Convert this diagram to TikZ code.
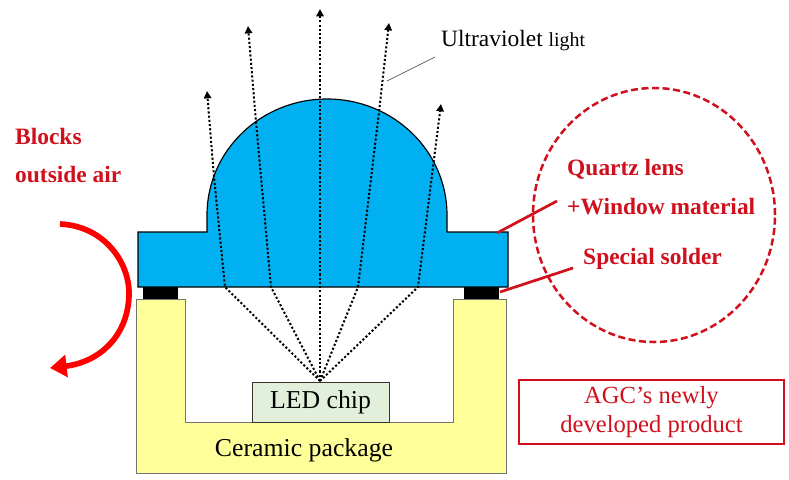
\documentclass[tikz,border=0pt]{standalone}
\usepackage{fontspec}
\setmainfont{Liberation Serif}
\usepackage{tikz}
\usetikzlibrary{positioning}
\usetikzlibrary{shapes.geometric,calc,arrows.meta}
\definecolor{lensblue}{HTML}{00B0F0}
\definecolor{pkgyellow}{HTML}{FFFF99}
\definecolor{chipgreen}{HTML}{E2EFDA}
\definecolor{agcred}{HTML}{D0101C}
\tikzset{
	ray/.style = {line width=0.75mm*0.8, dash pattern=on 1.8pt off 1.8pt, -{Triangle[length=2.2mm,width=2.2mm]}},
	leader/.style = {agcred, line width=0.9mm*0.9},
	bluelabel/.style = {inner sep=0pt, anchor=base west, font=\fontsize{20}{24}\selectfont\bfseries, text=agcred},
	blacklabel/.style = {inner sep=0pt, anchor=base, font=\fontsize{22}{26}\selectfont},
}
\begin{document}
\begin{tikzpicture}[x=0.03cm,y=-0.03cm]
	\useasboundingbox (0,0) rectangle (789,479);
	\fill[white] (0,0) rectangle (789,479);
	% package and solder
	\draw[fill=pkgyellow, draw=black!55, line width=0.6pt] (136,299) -- (185,299) -- (185,422) -- (453,422) -- (453,299) -- (506,299) -- (506,473) -- (136,473) -- cycle;
	\fill[black] (143,287) rectangle (178,299);
	\fill[black] (464,287) rectangle (499,299);
	% lens
	\draw[fill=lensblue, draw=black, line width=1pt] (138,232) -- (207,232) -- (207,215) arc[x radius=120, y radius=116, start angle=180, end angle=360] -- (447,232) -- (508,232) -- (508,287) -- (138,287) -- cycle;
	\node at(320.5,402) (Chip) [draw=black!80, fill=chipgreen, line width=0.6pt, minimum width=137*0.3mm, minimum height=40*0.3mm, inner sep=0pt, font=\fontsize{22}{26}\selectfont] {LED chip};
	\coordinate (Source) at (320,381);
	\coordinate (TipA) at (207,91);
	\coordinate (TipB) at (248,26);
	\coordinate (TipC) at (320,9);
	\coordinate (TipD) at (389,23);
	\coordinate (TipE) at (441,104);
	\draw[ray] (Source) -- (225,287) -- (214,177) -- (TipA);
	\draw[ray] (Source) -- (271,287) -- (256,122) -- (TipB);
	\draw[ray] (Source) -- (320,287) -- (TipC);
	\draw[ray] (Source) -- (358,287) -- (379,112) -- (TipD);
	\draw[ray] (Source) -- (418,287) -- (433,167) -- (TipE);
	% labels
	\node at(304,456) (Ceramic) [blacklabel] {Ceramic package};
	\node at(441,47) (Ultraviolet) [inner sep=0pt, anchor=base west, font=\fontsize{20}{24}\selectfont] {Ultraviolet {\fontsize{17}{20}\selectfont light}};
	\coordinate (UltraEnd) at (435,57);
	\coordinate (UltraRay) at (387,81);
	\draw[black!80, line width=0.5pt] (UltraEnd) -- (UltraRay);
	\node at(15,144) (Blocks) [bluelabel] {Blocks};
	\node at(15,182) (Outside) [bluelabel] {outside air};
	\draw[red, line width=1.9mm*0.9, -{Triangle[length=5mm,width=6.5mm]}] (60,224) .. controls (104,226) and (129,262) .. (129,293) .. controls (129,335) and (100,362) .. (50,368);
	% red circle
	\node at(654,215) (Circle) [ellipse, draw=agcred, line width=0.75mm, dash pattern=on 6pt off 3pt, minimum width=242*0.3mm, minimum height=254*0.3mm, inner sep=0pt] {};
	\node at(567,175) (Quartz) [bluelabel] {Quartz lens};
	\node at(567,214) (Window) [bluelabel] {+Window material};
	\node at(583,264) (Solder) [bluelabel] {Special solder};
	\coordinate (LensEdge) at (497,233);
	\coordinate (LensEnd) at (557,201);
	\coordinate (SolderEdge) at (500,292);
	\coordinate (SolderEnd) at (573,268);
	\draw[leader] (LensEdge) -- (LensEnd);
	\draw[leader] (SolderEdge) -- (SolderEnd);
	\node at(651.5,412) (Product) [draw=agcred, line width=0.75mm, minimum width=265*0.3mm, minimum height=64*0.3mm, inner sep=0pt, align=center, text=agcred, font=\fontsize{21}{25}\selectfont] {AGC’s newly\\developed product};
\end{tikzpicture}
\end{document}
